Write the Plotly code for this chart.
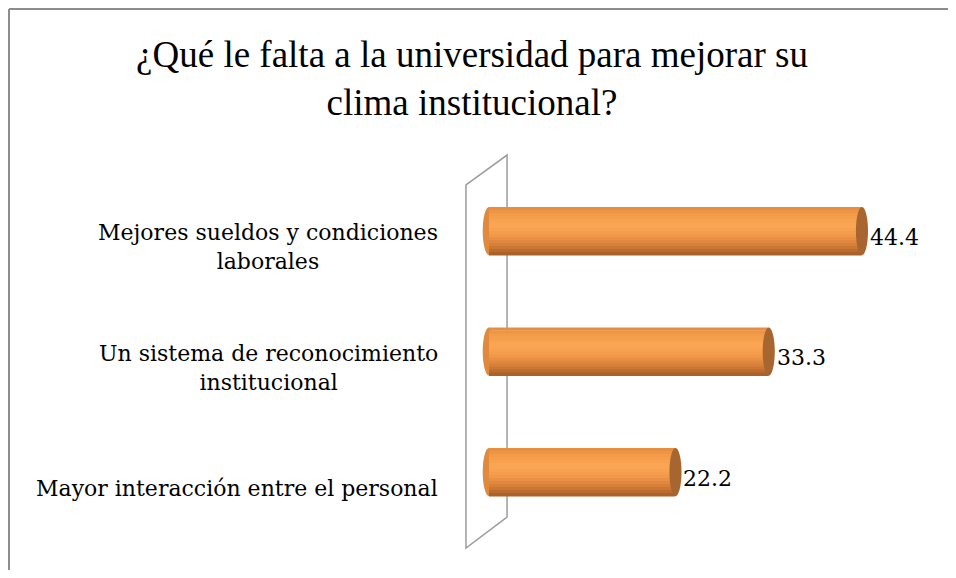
import plotly.graph_objects as go

# data
categories = [
    "Mejores sueldos y condiciones<br>laborales",
    "Un sistema de reconocimiento<br>institucional",
    "Mayor interacción entre el personal",
]
values = [44.4, 33.3, 22.2]
title_text = "¿Qué le falta a la universidad para mejorar su<br>clima institucional?"

# the html body has an 8px margin on every side; keep the figure inside the window
OFF = 8
W, H = 956 - 2 * OFF, 578 - 2 * OFF
SERIF = "DejaVu Serif, serif"
BAR_W = 0.4


def fx(x):
    return (x - OFF) / W


def fy(y):
    return 1 - (y - OFF) / H


def mix(c1, c2, f):
    a = [int(c1[i:i + 2], 16) for i in (1, 3, 5)]
    b = [int(c2[i:i + 2], 16) for i in (1, 3, 5)]
    return "#" + "".join(f"{round(p + (q - p) * f):02x}" for p, q in zip(a, b))


# shading profile across the cylinder, top -> bottom
profile = [(0.0, "#e48c3d"), (0.15, "#f39b49"), (0.38, "#fba755"),
           (0.6, "#f1984a"), (0.8, "#d47d37"), (1.0, "#a55c27")]


def shade(t):
    for (t0, c0), (t1, c1) in zip(profile, profile[1:]):
        if t <= t1:
            return mix(c0, c1, (t - t0) / (t1 - t0))
    return profile[-1][1]


fig = go.Figure()

n_strips = 16
strip = BAR_W / n_strips
for k in range(n_strips):
    fig.add_trace(go.Bar(
        x=values, y=categories, orientation="h",
        width=strip * 1.15, offset=-BAR_W / 2 + k * strip,
        marker=dict(color=shade((k + 0.5) / n_strips), line=dict(width=0)),
        hoverinfo="skip", showlegend=False,
    ))

shapes = []
annotations = []
for i, v in enumerate(values):
    # rounded left end and dark right cap
    shapes.append(dict(type="circle", xref="x", yref="y", layer="below",
                       x0=-0.75, x1=0.75, y0=i - BAR_W / 2, y1=i + BAR_W / 2,
                       fillcolor="#e08a3e", line=dict(width=0)))
    shapes.append(dict(type="circle", xref="x", yref="y",
                       x0=v - 0.72, x1=v + 0.72, y0=i - BAR_W / 2, y1=i + BAR_W / 2,
                       fillcolor="#a7662f", line=dict(width=0)))
    annotations.append(dict(x=v, y=i, xref="x", yref="y", text=f"{v:.1f}",
                            showarrow=False, xanchor="left", xshift=6, yshift=-6,
                            font=dict(family=SERIF, size=22, color="#000000")))
    annotations.append(dict(x=fx(440), y=i, xref="paper", yref="y", text=categories[i],
                            showarrow=False, xanchor="right", align="center", yshift=-16,
                            font=dict(family=SERIF, size=22, color="#000000")))


def pt(x, y):
    return f"{fx(x):.4f},{fy(y):.4f}"


# 3D side wall
shapes.append(dict(type="path", xref="paper", yref="paper", layer="below",
                   path=f"M {pt(466, 185)} L {pt(507, 155)} L {pt(507, 517)} L {pt(466, 548)} Z",
                   line=dict(color="#9c9c9c", width=1.5)))
# outer frame (only top and left are visible in the crop)
shapes.append(dict(type="line", xref="paper", yref="paper",
                   x0=fx(9), x1=1.0, y0=fy(9), y1=fy(9),
                   line=dict(color="#8c8c8c", width=2)))
shapes.append(dict(type="line", xref="paper", yref="paper",
                   x0=fx(9), x1=fx(9), y0=fy(9), y1=0.0,
                   line=dict(color="#8c8c8c", width=2)))

zero_px, scale = 489, 8.4
fig.update_layout(
    width=W, height=H,
    margin=dict(l=0, r=0, t=0, b=0),
    paper_bgcolor="white", plot_bgcolor="rgba(0,0,0,0)",
    barmode="overlay",
    title=dict(text=title_text, x=fx(472), y=fy(67), xanchor="center", yanchor="middle",
               font=dict(family="Liberation Serif, serif", size=37, color="#000000")),
    xaxis=dict(range=[-1, 50], domain=[fx(zero_px - scale), fx(zero_px + 50 * scale)],
               showgrid=False, zeroline=False, showticklabels=False, showline=False),
    yaxis=dict(type="category", categoryorder="array", categoryarray=categories,
               range=[2.5, -0.5], domain=[fy(532.25), fy(170.75)],
               showgrid=False, zeroline=False, showticklabels=False, showline=False),
    shapes=shapes,
    annotations=annotations,
)

fig.write_html("out.html")
